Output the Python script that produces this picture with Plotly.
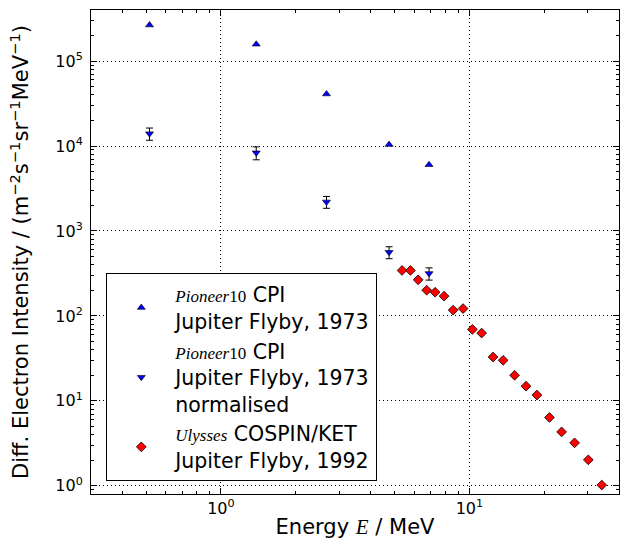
import numpy as np
import plotly.graph_objects as go

# ---- data ----
pioneer_energy = [0.516, 1.387, 2.66, 4.75, 6.88]
pioneer_flux = [2.66e5, 1.58e5, 4.10e4, 1.04e4, 6.03e3]

pioneer_norm_flux = [1.40e4, 8.34e3, 2.20e3, 562, 316]
pioneer_norm_err = [2.3e3, 1.45e3, 350, 90, 52]

ulysses_energy = [5.36, 5.79, 6.22, 6.73, 7.28, 7.91, 8.60, 9.43, 10.28, 11.2,
                  12.45, 13.67, 15.2, 16.9, 18.7, 21.0, 23.5, 26.5, 30.1, 34.1]
ulysses_flux = [343, 343, 266, 201, 190, 171, 117, 122, 69.4, 62.8,
                32.8, 30.0, 20.0, 14.9, 11.7, 6.37, 4.31, 3.20, 2.02, 1.02]

x_tickvals = [1, 10]
x_ticktext = ["10<sup>0</sup>", "10<sup>1</sup>"]
y_tickvals = [1, 10, 100, 1e3, 1e4, 1e5]
y_ticktext = ["10<sup>0</sup>", "10<sup>1</sup>", "10<sup>2</sup>",
              "10<sup>3</sup>", "10<sup>4</sup>", "10<sup>5</sup>"]

x_range = [0.3, 40]
y_range = [0.8, 4e5]

SERIF = "font-family:Liberation Serif;font-size:17px"
FONT = "DejaVu Sans"

fig = go.Figure()
fig.add_trace(go.Scatter(
    x=pioneer_energy, y=pioneer_flux, mode="markers",
    name=f"<span style=\"{SERIF}\"><i>Pioneer</i>10</span> CPI<br>Jupiter Flyby, 1973",
    marker=dict(symbol="triangle-up", size=7, color="#0000ff",
                line=dict(color="black", width=0.6)),
))
fig.add_trace(go.Scatter(
    x=pioneer_energy, y=pioneer_norm_flux, mode="markers",
    name=f"<span style=\"{SERIF}\"><i>Pioneer</i>10</span> CPI<br>Jupiter Flyby, 1973<br>normalised",
    marker=dict(symbol="triangle-down", size=7, color="#0000ff",
                line=dict(color="black", width=0.6)),
    error_y=dict(type="data", array=pioneer_norm_err, visible=True,
                 color="black", thickness=1, width=3.5),
))
fig.add_trace(go.Scatter(
    x=ulysses_energy, y=ulysses_flux, mode="markers",
    name=f"<span style=\"{SERIF}\"><i>Ulysses</i></span> COSPIN/KET<br>Jupiter Flyby, 1992",
    marker=dict(symbol="diamond", size=7.5, color="#ff0000",
                line=dict(color="black", width=0.8)),
))

axis_common = dict(
    type="log",
    showline=True, linecolor="black", linewidth=1, mirror="allticks",
    ticks="inside", ticklen=6, tickwidth=1, tickcolor="black",
    showgrid=True, gridcolor="black", gridwidth=1, griddash="1px,3px",
    zeroline=False,
    tickfont=dict(family=FONT, size=16, color="black"),
    minor=dict(ticks="inside", ticklen=3, tickwidth=1, tickcolor="black",
               dtick="D1", showgrid=False),
)

fig.update_xaxes(
    **axis_common,
    range=[np.log10(x_range[0]), np.log10(x_range[1])],
    tickmode="array", tickvals=x_tickvals, ticktext=x_ticktext,
    title=dict(text="Energy <span style=\"font-family:Liberation Serif\"><i>E</i></span> / MeV",
               font=dict(family=FONT, size=21, color="black"), standoff=2),
)
fig.update_yaxes(
    **axis_common,
    range=[np.log10(y_range[0]), np.log10(y_range[1])],
    tickmode="array", tickvals=y_tickvals, ticktext=y_ticktext,
    ticklabelstandoff=4,
    title=dict(text="Diff. Electron Intensity / (m<sup>\u22122</sup>s<sup>\u22121</sup>sr<sup>\u22121</sup>MeV<sup>\u22121</sup>)",
               font=dict(family=FONT, size=21, color="black"), standoff=20),
)

fig.update_layout(
    width=620, height=543,
    margin=dict(l=91, r=1, t=10, b=49, autoexpand=False),
    paper_bgcolor="white", plot_bgcolor="white",
    font=dict(family=FONT, color="black"),
    showlegend=True,
    hovermode=False,
    legend=dict(
        x=0.029, y=0.026, xanchor="left", yanchor="bottom",
        bgcolor="white", bordercolor="black", borderwidth=1,
        font=dict(family=FONT, size=20.5, color="black"),
        itemwidth=58, tracegroupgap=0,
    ),
)

fig.write_html("out.html",
               config={"displayModeBar": False},
               post_script="document.body.style.margin='0';document.body.style.padding='0';")
